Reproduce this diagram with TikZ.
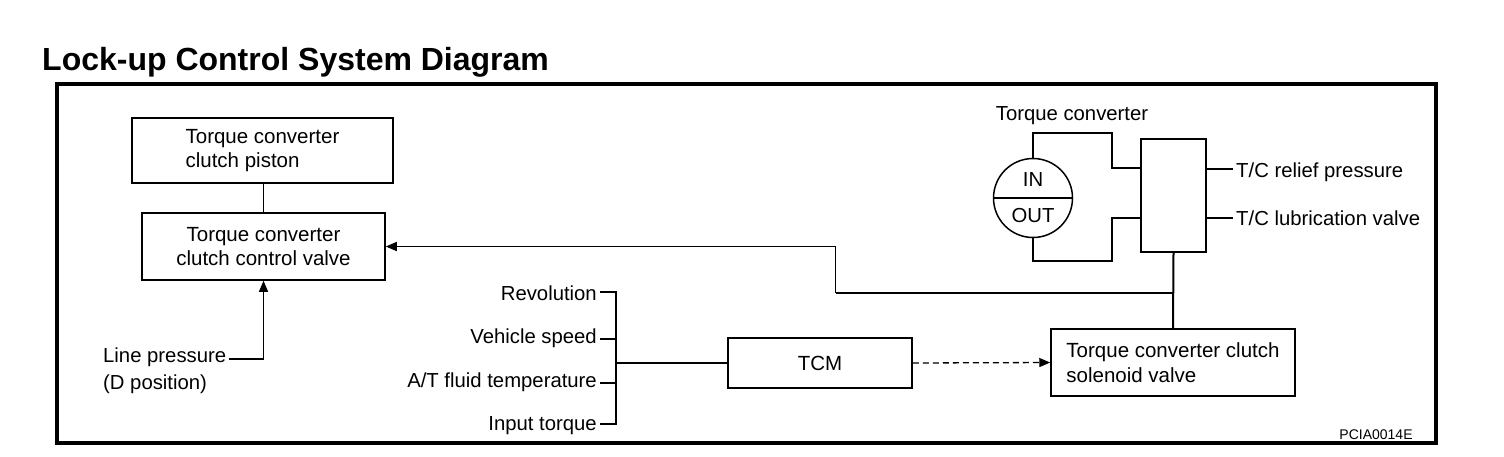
\documentclass[tikz,border=0pt]{standalone}
\usepackage{fontspec}
\setmainfont{Liberation Sans}
\usetikzlibrary{arrows.meta}
\begin{document}
\begin{tikzpicture}[x=1pt,y=-1pt,
  box/.style={draw, line width=1.5pt, rectangle, inner sep=0pt, font=\fontsize{20.5}{24.5}\selectfont},
  lbl/.style={inner sep=0pt, font=\fontsize{20.3}{24}\selectfont},
  ln/.style={line width=1.3pt},
  thk/.style={line width=2pt},
  arr/.style={ln, -{Triangle[length=11pt,width=9pt]}}]
\useasboundingbox (0,0) rectangle (1504,456);
\fill[white] (0,0) rectangle (1504,456);
% title and frame
\node[anchor=base west, inner sep=0pt, font=\fontsize{32}{36}\selectfont\bfseries] (title) at (42,70) {Lock-up Control System Diagram};
\draw[line width=4pt] (57,84) rectangle (1436,443);
\node[inner sep=0pt, font=\fontsize{14}{16}\selectfont] (code) at (1376,435) {PCIA0014E};
% boxes
\node[box, minimum width=261pt, minimum height=65pt, align=left] (piston) at (262.5,150.5) {Torque converter\\clutch piston};
\node[box, minimum width=243pt, minimum height=67pt, align=center] (valve) at (263.5,246.5) {Torque converter\\clutch control valve};
\node[box, minimum width=184pt, minimum height=50pt] (tcm) at (820,363) {TCM};
\node[box, minimum width=244pt, minimum height=67pt, align=left] (sol) at (1173,362.5) {Torque converter clutch\\solenoid valve};
\node[draw, line width=1.6pt, minimum width=65pt, minimum height=113pt, inner sep=0pt] (relief) at (1173.5,195.5) {};
\node[draw, circle, line width=1.5pt, minimum size=79pt, inner sep=0pt] (tc) at (1033,198) {};
\draw[line width=1.5pt] (tc.west) -- (tc.east);
\node[lbl] (in) at (1033,179.5) {IN};
\node[lbl] (out) at (1033,215.5) {OUT};
\node[lbl, anchor=base] (tclbl) at (1072,120) {Torque converter};
% torque converter piping
\coordinate (ta) at (1112,133);
\coordinate (tb) at (1112,168);
\coordinate (ba) at (1112,261);
\coordinate (bb) at (1112,218);
\draw[ln] (tc.north) |- (ta) -- (tb) -- (tb -| relief.west);
\draw[ln] (tc.south) |- (ba) -- (bb) -- (bb -| relief.west);
% relief outputs
\coordinate (rp) at (1233,169);
\coordinate (lv) at (1233,218);
\draw[ln] (rp -| relief.east) -- (rp);
\draw[ln] (lv -| relief.east) -- (lv);
\node[lbl, anchor=base west] (rplbl) at (1236,177) {T/C relief pressure};
\node[lbl, anchor=base west] (lvlbl) at (1236,225) {T/C lubrication valve};
% hydraulic line to control valve
\coordinate (j) at (relief.south |- 0,293);
\coordinate (k) at (835.5,293);
\draw[thk] (relief.south) -- (sol.north);
\draw[thk] (j) -- (k);
\draw[arr] (k) |- (valve.east);
% piston - valve
\draw[ln] (piston.south) -- (valve.south |- piston.south) -- (valve.north);
% line pressure
\node[lbl, anchor=base west] (lp) at (103,362) {Line pressure};
\node[lbl, anchor=base west] (lpd) at (103,389) {(D position)};
\coordinate (lpe) at (229,359);
\draw[arr] (lpe) -| (valve.south);
% inputs
\node[lbl, anchor=base east] (rev) at (597,300.5) {Revolution};
\node[lbl, anchor=base east] (veh) at (597,343.5) {Vehicle speed};
\node[lbl, anchor=base east] (atf) at (597,387) {A/T fluid temperature};
\node[lbl, anchor=base east] (inp) at (597,430.5) {Input torque};
\coordinate (b1) at (616,292);
\coordinate (b2) at (616,339);
\coordinate (b3) at (616,383);
\coordinate (b4) at (616,424);
\coordinate (bm) at (616,363);
\draw[ln] (600,292) -- (b1) -- (b4) -- (600,424);
\draw[ln] (600,339) -- (b2);
\draw[ln] (600,383) -- (b3);
\draw[ln] (bm) -- (tcm.west);
% TCM to solenoid
\draw[ln, dash pattern=on 6pt off 4pt, -{Triangle[length=11pt,width=9pt]}] (tcm.east) -- (sol.west);
\end{tikzpicture}
\end{document}
